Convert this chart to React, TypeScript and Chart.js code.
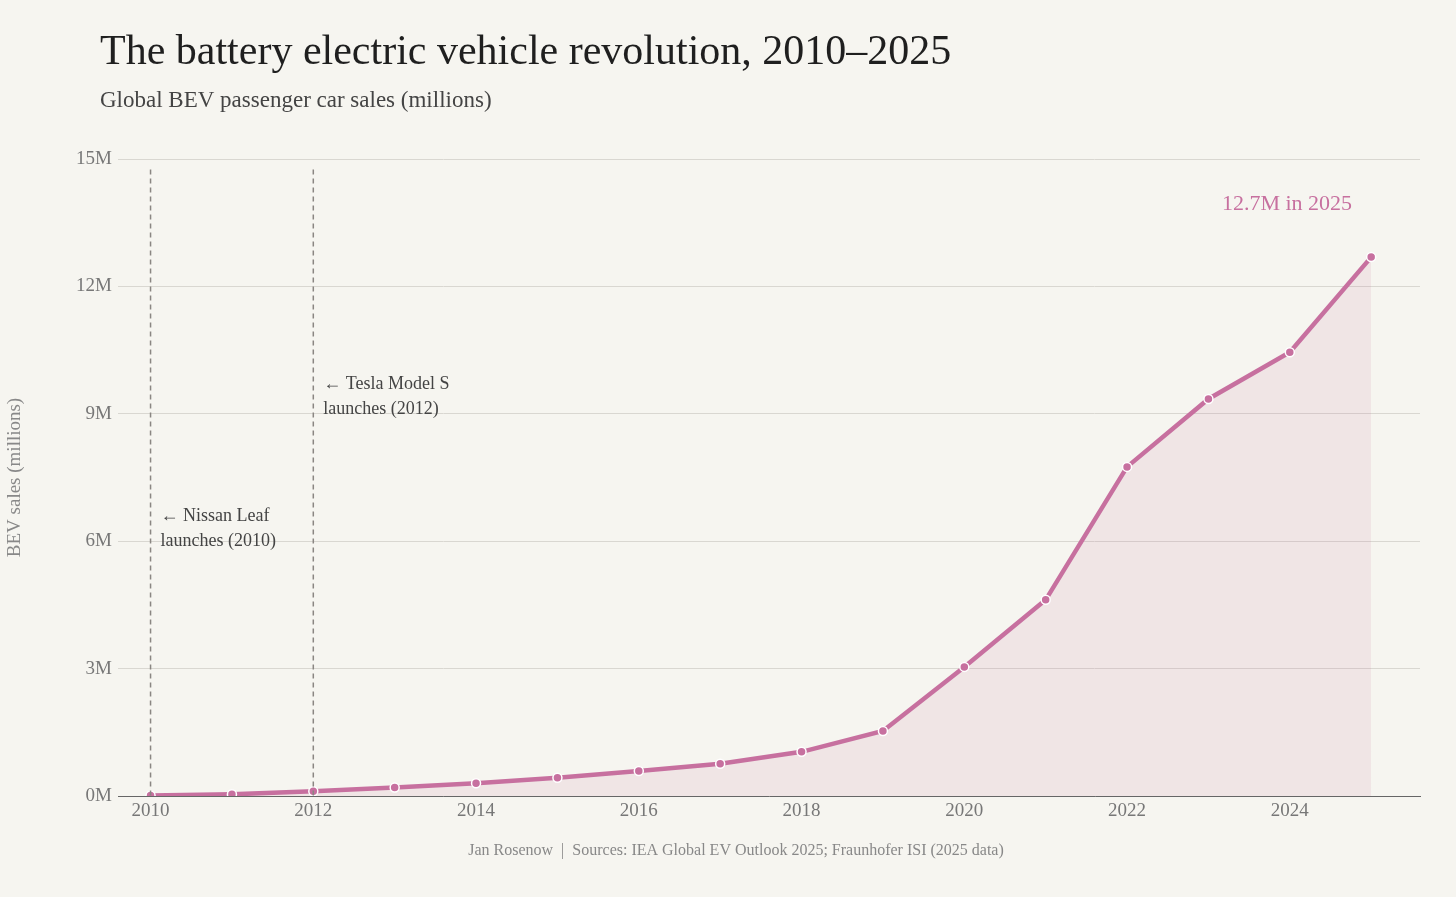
import React, { useEffect, useRef } from "react";
import { Chart, registerables } from "chart.js";
Chart.register(...registerables);

const years = [2010,2011,2012,2013,2014,2015,2016,2017,2018,2019,2020,2021,2022,2023,2024,2025];
const sales = [0.01,0.04,0.11,0.2,0.3,0.43,0.59,0.76,1.04,1.53,3.04,4.62,7.75,9.35,10.45,12.69];
const yTicks = [0,3,6,9,12,15];
const xTicks = [2010,2012,2014,2016,2018,2020,2022,2024];
const FONT = "'Liberation Serif', 'DejaVu Serif', serif";
const PINK = "#c7709f";

const overlay = {
  id: "overlay",
  afterDatasetsDraw(chart: any) {
    const { ctx, scales: { x, y }, chartArea } = chart;
    ctx.save();
    // vertical dashed lines
    ctx.strokeStyle = "#8a8682"; ctx.lineWidth = 1.5; ctx.setLineDash([5, 4]);
    [2010, 2012].forEach((yr) => {
      const px = x.getPixelForValue(yr);
      ctx.beginPath(); ctx.moveTo(px, y.getPixelForValue(14.75)); ctx.lineTo(px, chartArea.bottom); ctx.stroke();
    });
    ctx.setLineDash([]);
    ctx.fillStyle = "#444"; ctx.font = `18px ${FONT}`; ctx.textBaseline = "middle"; ctx.textAlign = "left";
    const x10 = x.getPixelForValue(2010) + 10, x12 = x.getPixelForValue(2012) + 10;
    ctx.fillText("← Nissan Leaf", x10, 516); ctx.fillText("launches (2010)", x10, 541);
    ctx.fillText("← Tesla Model S", x12, 384); ctx.fillText("launches (2012)", x12, 409);
    ctx.fillStyle = PINK; ctx.font = `22px ${FONT}`; ctx.textAlign = "center";
    ctx.fillText("12.7M in 2025", 1287, 204);
    // titles
    ctx.textAlign = "left"; ctx.fillStyle = "#1f1f1f"; ctx.font = `42px ${FONT}`;
    ctx.fillText("The battery electric vehicle revolution, 2010–2025", 100, 53);
    ctx.fillStyle = "#444"; ctx.font = `23px ${FONT}`;
    ctx.fillText("Global BEV passenger car sales (millions)", 100, 101);
    ctx.fillStyle = "#888"; ctx.font = `16px ${FONT}`; ctx.textAlign = "center";
    ctx.fillText("Jan Rosenow  |  Sources: IEA Global EV Outlook 2025; Fraunhofer ISI (2025 data)", 736, 851);
    ctx.restore();
  },
};

export default function App() {
  const ref = useRef<HTMLCanvasElement>(null);
  useEffect(() => {
    document.body.style.margin = "0";
    document.body.style.background = "#f6f5f0";
    const chart = new Chart(ref.current!, {
      type: "line",
      data: {
        datasets: [{
          data: years.map((yr, i) => ({ x: yr, y: sales[i] })),
          borderColor: PINK, borderWidth: 4.5, fill: "origin",
          backgroundColor: "rgba(199,112,159,0.12)",
          pointRadius: 4.5, pointBackgroundColor: PINK, pointBorderColor: "#fff", pointBorderWidth: 1.5,
          tension: 0,
        }],
      },
      options: {
        animation: false, responsive: false,
        layout: { padding: { left: 0, top: 159, right: 36, bottom: 61 } },
        plugins: { legend: { display: false }, tooltip: { enabled: false } },
        scales: {
          x: {
            type: "linear", min: 2009.6, max: 2025.6,
            afterBuildTicks: (s: any) => { s.ticks = xTicks.map((v) => ({ value: v })); },
            afterFit: (s: any) => { s.height = 40; },
            grid: { display: false, drawTicks: false },
            border: { color: "#666", width: 1 },
            ticks: { color: "#777", font: { family: FONT, size: 19 }, padding: 4, callback: (v: any) => String(v) },
          },
          y: {
            min: 0, max: 15,
            afterBuildTicks: (s: any) => { s.ticks = yTicks.map((v) => ({ value: v })); },
            afterFit: (s: any) => { s.width = 118; },
            grid: { color: "#d9d7d1", drawTicks: false },
            border: { display: false },
            title: { display: true, text: "BEV sales (millions)", color: "#888", font: { family: FONT, size: 19 } },
            ticks: { color: "#777", font: { family: FONT, size: 19 }, padding: 6, callback: (v: any) => v + "M" },
          },
        },
      },
      plugins: [overlay],
    });
    return () => chart.destroy();
  }, []);
  return <canvas ref={ref} width={1456} height={897} style={{ display: "block" }} />;
}
